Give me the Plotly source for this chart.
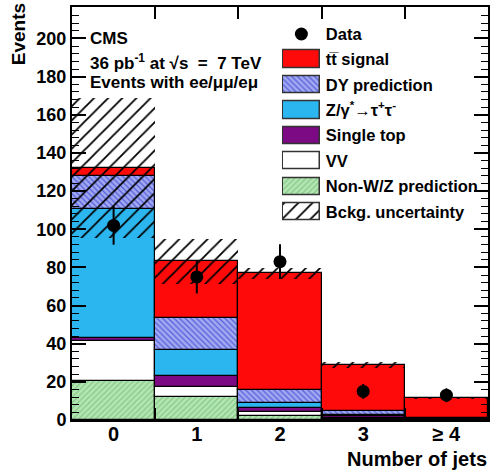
import numpy as np
import plotly.graph_objects as go

# ---- data: dilepton events per jet multiplicity ----
jets = [0, 1, 2, 3, 4]
jet_labels = ["0", "1", "2", "3", "≥ 4"]
bin_edges = [0.5, 1.5, 2.5, 3.5]

non_wz = [20.7, 12.0, 2.3, 0.5, 0.2]
vv = [20.8, 5.5, 1.8, 0.6, 0.2]
single_top = [1.5, 5.5, 2.3, 1.0, 0.4]
z_tautau = [67.6, 13.7, 2.4, 0.4, 0.1]
dy = [17.3, 16.8, 6.7, 2.0, 0.3]
ttbar = [4.1, 29.8, 61.3, 24.3, 10.2]
bkg_unc = [36.7, 11.8, 3.0, 1.5, 0.6]
data = [102, 75, 83, 15, 13]

# ---- canvas geometry ----
W, H = 492, 470
ML, MR, MT, MB = 72, 2, 7, 50
PW, PH = W - ML - MR, H - MT - MB


def px(x):
    return (x - ML) / PW


def py(y):
    return (H - MB - y) / PH


BOLD = dict(family="Liberation Sans, Arial, sans-serif", color="black", weight="bold")

styles = {
    "nonwz": dict(color="#b4e6b4", line=dict(color="black", width=1.2),
                  pattern=dict(shape="/", fgcolor="#86c886", bgcolor="#b4e6b4", size=4, solidity=0.3, fillmode="replace")),
    "vv": dict(color="white", line=dict(color="black", width=1.2)),
    "st": dict(color="#7d0a85", line=dict(color="black", width=1.2)),
    "tt_tau": dict(color="#2cb6ef", line=dict(color="black", width=1.2)),
    "dy": dict(color="#a3a8f2", line=dict(color="black", width=1.2),
               pattern=dict(shape="\\", fgcolor="#5260d8", bgcolor="#a3a8f2", size=4, solidity=0.3, fillmode="replace")),
    "ttbar": dict(color="#ff0a0a", line=dict(color="black", width=1.2)),
    "unc": dict(color="rgba(0,0,0,0)", line=dict(color="black", width=0),
                pattern=dict(shape="/", fgcolor="black", bgcolor="rgba(0,0,0,0)", size=10, solidity=0.18, fillmode="replace")),
}

layers = [
    ("nonwz", non_wz),
    ("vv", vv),
    ("st", single_top),
    ("tt_tau", z_tautau),
    ("dy", dy),
    ("ttbar", ttbar),
]

fig = go.Figure()

base = np.zeros(len(jets))
for key, vals in layers:
    vals = np.asarray(vals, dtype=float)
    fig.add_trace(go.Bar(x=jets, y=vals, base=base, width=1, marker=styles[key],
                         showlegend=False, hoverinfo="skip"))
    base = base + vals

total = base
unc = np.asarray(bkg_unc)
fig.add_trace(go.Bar(x=jets, y=2 * unc, base=total - unc, width=1, marker=styles["unc"],
                     showlegend=False, hoverinfo="skip"))

data_arr = np.asarray(data, dtype=float)
fig.add_trace(go.Scatter(x=jets, y=data_arr, mode="markers",
                         marker=dict(color="black", size=13),
                         error_y=dict(type="data", array=np.sqrt(data_arr), color="black", thickness=2, width=0),
                         showlegend=False, hoverinfo="skip"))

# placeholder trace (below the visible y range) so the label axis is rendered
fig.add_trace(go.Scatter(x=[0], y=[-50], mode="markers", marker=dict(size=1, color="rgba(0,0,0,0)"),
                         xaxis="x2", yaxis="y", showlegend=False, hoverinfo="skip"))

# ---- legend drawn on its own small axis pair ----
legend_labels = ["Data", "tt\u0305 signal", "DY prediction",
                 "Z/γ<sup>*</sup>→τ<sup>+</sup>τ<sup>-</sup>", "Single top", "VV",
                 "Non-W/Z prediction", "Bckg. uncertainty"]
legend_keys = [None, "ttbar", "dy", "tt_tau", "st", "vv", "nonwz", "unc"]
for row, key in enumerate(legend_keys):
    if key is None:
        fig.add_trace(go.Scatter(x=[0.5], y=[row], mode="markers", marker=dict(color="black", size=13),
                                 xaxis="x3", yaxis="y3", showlegend=False, hoverinfo="skip"))
    else:
        m = dict(styles[key])
        m["line"] = dict(color="#333333", width=1.5)
        fig.add_trace(go.Bar(x=[1], y=[row], base=[0], orientation="h", width=0.68, marker=m,
                             xaxis="x3", yaxis="y3", showlegend=False, hoverinfo="skip"))

fig.update_layout(
    width=W, height=H,
    margin=dict(l=ML, r=MR, t=MT, b=MB),
    paper_bgcolor="white", plot_bgcolor="white",
    barmode="overlay", bargap=0,
    showlegend=False,
    # main x axis: frame and tick marks at the bin edges
    xaxis=dict(range=[-0.5, 4.5], tickmode="array", tickvals=bin_edges, showticklabels=False,
               ticks="inside", ticklen=12, tickwidth=1.5, tickcolor="black",
               showgrid=False, zeroline=False, layer="above traces",
               showline=True, linecolor="black", linewidth=2, mirror="ticks"),
    # label axis: jet multiplicity at bin centres
    xaxis2=dict(range=[-0.5, 4.5], overlaying="x", anchor="y", side="bottom",
                tickmode="array", tickvals=jets, ticktext=jet_labels, ticks="",
                showgrid=False, zeroline=False, showline=False,
                tickfont=dict(size=20, **BOLD)),
    yaxis=dict(range=[0, 216.5], tickmode="linear", tick0=0, dtick=20,
               ticks="inside", ticklen=14, tickwidth=1.5, tickcolor="black",
               showgrid=False, zeroline=False,
               showline=True, linecolor="black", linewidth=2, mirror="ticks",
               tickfont=dict(size=18, **BOLD),
               minor=dict(dtick=4, ticks="inside", ticklen=7, tickwidth=1.2, tickcolor="black")),
    xaxis3=dict(domain=[px(283), px(322)], anchor="y3", range=[-0.03, 1.03], visible=False, fixedrange=True),
    yaxis3=dict(domain=[py(224.7), py(21.3)], anchor="x3", range=[7.5, -0.5], side="right",
                tickmode="array", tickvals=list(range(len(legend_labels))), ticktext=legend_labels,
                ticks="", showline=False, showgrid=False, zeroline=False, ticklabelstandoff=4,
                tickfont=dict(size=16.5, **BOLD)),
)

texts = [
    ("CMS", 88, 38),
    ("36 pb<sup>-1</sup> at √s  =  7 TeV", 88, 62),
    ("Events with ee/μμ/eμ", 88, 82),
]
for t, x, y in texts:
    fig.add_annotation(text=t, xref="paper", yref="paper", x=px(x), y=py(y),
                       xanchor="left", yanchor="middle", showarrow=False,
                       font=dict(size=17, **BOLD))

fig.add_annotation(text="Events", xref="paper", yref="paper", x=px(18), y=py(1),
                   xanchor="center", yanchor="top", textangle=-90, showarrow=False,
                   font=dict(size=19, **BOLD))
fig.add_annotation(text="Number of jets", xref="paper", yref="paper", x=px(491), y=py(459),
                   xanchor="right", yanchor="middle", showarrow=False,
                   font=dict(size=20, **BOLD))

fig.write_html("out.html")
